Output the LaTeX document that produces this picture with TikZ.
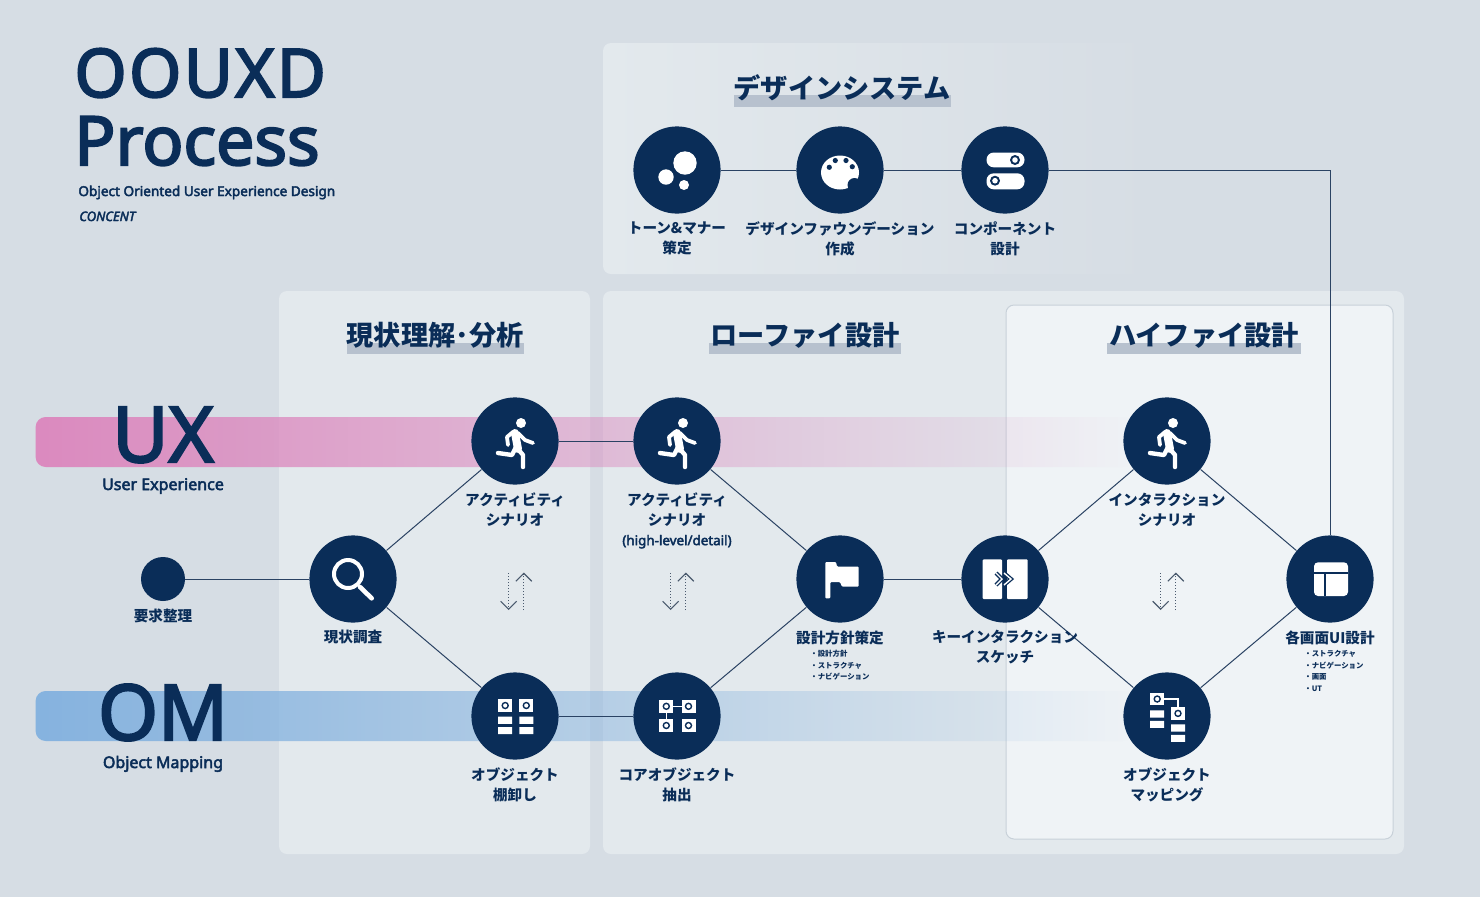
\documentclass[tikz,border=0pt]{standalone}
\usepackage{fontspec}
\usetikzlibrary{arrows.meta,positioning,fadings}
\setmainfont{Noto Sans CJK JP}
\newfontfamily\latinf{Noto Sans}[FakeBold=3]
\newfontfamily\titlef{Noto Sans}[FakeBold=3,LetterSpace=3.6]
\definecolor{ink}{HTML}{0A2D58}
\definecolor{wire}{HTML}{2A4263}
\definecolor{swapgrey}{HTML}{4A5A6E}
\definecolor{paper}{HTML}{D6DDE4}
\definecolor{panelgrey}{HTML}{E3E9ED}
\definecolor{panellight}{HTML}{EFF3F6}
\definecolor{rim}{HTML}{C8D1D9}
\definecolor{headbar}{HTML}{B7C1CE}
\definecolor{uxpink}{HTML}{DC8ABF}
\definecolor{omblue}{HTML}{86B3DF}
\tikzfading[name=bandfade,left color=transparent!0,right color=transparent!100]
\tikzset{stage/.style={circle,fill=ink,minimum size=43.6pt,inner sep=0pt,on grid},startdot/.style={circle,fill=ink,minimum size=22pt,inner sep=0pt},link/.style={draw=wire,line width=.5pt},stagecap/.style={font=\bfseries\fontsize{7.3}{10}\selectfont,text=ink,align=center,inner sep=0pt},stagenote/.style={font=\bfseries\fontsize{3.7}{5.75}\selectfont,text=ink,align=left,inner sep=0pt},sectionhead/.style={font=\bfseries\fontsize{13.6}{16}\selectfont,text=ink,inner sep=0pt},bigword/.style={font=\latinf\fontsize{38.5}{40}\selectfont,text=ink,inner sep=0pt,anchor=base},subword/.style={font=\latinf\fontsize{8}{10}\selectfont,text=ink,inner sep=0pt,anchor=base},whiteline/.style={draw=white,line cap=round,line join=round},swaparrow/.style={draw=swapgrey,line width=.55pt,dash pattern=on .6pt off .9pt,-{Straight Barb[length=4pt,width=8pt,line width=.55pt]}},
lens/.pic={\draw[white,line width=2pt] (-5,-5) circle[radius=14];\draw[whiteline,line width=2.3pt] (7,8)--(18.7,19.3);},
runner/.pic={\fill[white] (6,-18) circle[radius=5];\draw[whiteline,line width=4pt] (0,-8)--(3,8);\draw[whiteline,line width=1.9pt] (3,-8)--(10,-1)--(18,2);\draw[whiteline,line width=1.9pt] (-2,-9)--(-8,-4)--(-7,4);\draw[whiteline,line width=2.2pt] (1,6)--(-3,14)--(-17,12);\draw[whiteline,line width=2.2pt] (3,8)--(8,14)--(8,26);},
bubbles/.pic={\fill[white] (8,-7) circle[radius=11.7] (-11,7) circle[radius=7.7] (7,15) circle[radius=5];},
palette/.pic={\fill[white] (0,2.5) ellipse[x radius=19,y radius=17];\fill[ink] (14.5,15) circle[radius=7] (-4.7,-9.5) circle[radius=2.6] (6,-9.5) circle[radius=2.6] (-10.7,-2.7) circle[radius=2.6] (12.3,-3.3) circle[radius=2.6];},
toggles/.pic={\fill[white,rounded corners=3.6pt] (-18.5,-17.5) rectangle (19.5,-2.7) (-18.5,3.3) rectangle (19.5,19.3);\fill[ink] (10,-10) circle[radius=5] (-10,10.7) circle[radius=5];\fill[white] (10,-10) circle[radius=2.8] (-10,10.7) circle[radius=2.8];},
flagmark/.pic={\fill[white,rounded corners=.5pt] (-14.7,-17)--(-4,-17)--(-3,-12.5)--(18.7,-12.5)--(18.7,7.7)--(2,7.7)--(0,3)--(-9.7,3)--(-9.7,19.3)--(-14.7,19.3)--cycle;},
splitview/.pic={\fill[white,rounded corners=.5pt] (-22.3,-19.7) rectangle (-3,20) (2,-19.7) rectangle (22.7,20);\draw[ink,line width=2pt,line join=miter] (-9,-6)--(-3,0)--(-9,6) (-1,-6)--(6,0)--(-1,6);\draw[white,line width=.7pt] (-9,-6)--(-3,0)--(-9,6) (-1,-6)--(6,0)--(-1,6);},
layoutmark/.pic={\fill[white,rounded corners=2pt] (-16,-16.7) rectangle (18,17);\draw[ink,line width=.9pt] (-16,-5.7)--(18,-5.7) (-5.3,-5.7)--(-5.3,17);},
objsq/.pic={\fill[white] (-7,-6.4) rectangle (7,6.4);\draw[ink,line width=.7pt] (0,0) circle[radius=3];},
objbars/.pic={\fill[white] (-7,0) rectangle (7,7.2) (-7,10.5) rectangle (7,17.5);},
shelf/.pic={\pic at (-9.8,-10.5) {objsq};\pic at (11.3,-10.5) {objsq};\pic at (-9.8,.7) {objbars};\pic at (11.3,.7) {objbars};},
coregrid/.pic={\draw[white,line width=.8pt] (-10.7,-9.7)--(11.5,-9.7) (-10.7,-9.7)--(-10.7,9.5);\pic at (-10.7,-9.7) {objsq};\pic at (11.5,-9.7) {objsq};\pic at (-10.7,9.5) {objsq};\pic at (11.5,9.5) {objsq};},
mapmark/.pic={\draw[white,line width=.8pt] (-9.8,-17)--(11,-17)--(11,-3);\pic at (-9.8,-17) {objsq};\pic at (11,-2.6) {objsq};\pic at (-9.8,-5.7) {objbars};\pic at (11,8.3) {objbars};},
swapmark/.pic={\coordinate (-dtop) at (-6.3,-18);\coordinate (-dend) at (-6.3,19);\coordinate (-ubot) at (8.8,19);\coordinate (-utop) at (8.8,-18.5);\draw[swaparrow] (-dtop)--(-dend);\draw[swaparrow] (-ubot)--(-utop);}}
\begin{document}
\begin{tikzpicture}[x=.5pt,y=-.5pt]
\useasboundingbox (0,0) rectangle (1480,896);
\fill[paper] (-6,-6) rectangle (1486,902);
% panels
\shade[left color=panelgrey,right color=paper,rounded corners=4pt] (603,43) rectangle (1155,274);
\fill[panelgrey,rounded corners=4pt] (279,291) rectangle (590,854);
\fill[panelgrey,rounded corners=4pt] (603,291) rectangle (1404,854);
\filldraw[fill=panellight,draw=rim,line width=.5pt,rounded corners=4pt] (1006,305) rectangle (1393,839);
% bands
\fill[uxpink,path fading=bandfade,rounded corners=5pt] (36,417) rectangle (1135,467);
\fill[omblue,path fading=bandfade,rounded corners=5pt] (36,691) rectangle (1135,741);
% title
\node[font=\titlef\fontsize{33.5}{36}\selectfont,text=ink,inner sep=0pt,anchor=base west] (title) at (74,97) {OOUXD};
\node[font=\latinf\fontsize{34}{36}\selectfont,text=ink,inner sep=0pt,anchor=base west] (titleb) at (74,165) {Process};
\node[font=\latinf\fontsize{6.8}{9}\selectfont,text=ink,inner sep=0pt,anchor=base west] (subtitle) at (78,196) {Object Oriented User Experience Design};
\node[font=\latinf\itshape\fontsize{6.5}{8}\selectfont,text=ink,inner sep=0pt,anchor=base west] (maker) at (79,221) {CONCENT};
\node[bigword] (ux) at (163,462) {UX};
\node[subword] (uxsub) at (163,490) {User Experience};
\node[bigword] (om) at (163,740) {OM};
\node[subword] (omsub) at (163,768) {Object Mapping};
% section heads
\fill[headbar] (734,95) rectangle (951,107);
\fill[headbar] (347,343) rectangle (524,354);
\fill[headbar] (709,343) rectangle (901,354);
\fill[headbar] (1107,343) rectangle (1301,354);
\node[sectionhead] (headsystem) at (842,88) {デザインシステム};
\node[sectionhead] (headnow) at (435,335) {現状理解･分析};
\node[sectionhead] (headlow) at (805,335) {ローファイ設計};
\node[sectionhead] (headhigh) at (1204,335) {ハイファイ設計};
% stages
\node[stage] (tone) at (677,170) {};
\node[stage,right=81.5pt of tone] (found) {};
\node[stage,right=82.5pt of found] (comp) {};
\node[startdot] (req) at (163,579) {};
\node[stage,right=95pt of req] (survey) {};
\node[stage,above right=69pt and 81pt of survey] (acta) {};
\node[stage,below right=68.5pt and 81pt of survey] (obja) {};
\node[stage,right=81pt of acta] (actb) {};
\node[stage,right=81pt of obja] (core) {};
\node[stage,below right=69pt and 81.5pt of actb] (flag) {};
\node[stage,right=82.5pt of flag] (keyi) {};
\node[stage,above right=69pt and 81pt of keyi] (inter) {};
\node[stage,below right=68.5pt and 81pt of keyi] (mapping) {};
\node[stage,below right=69pt and 81.5pt of inter] (screen) {};
% connectors
\draw[link] (tone)--(found);\draw[link] (found)--(comp);\draw[link] (comp)-|(screen);
\draw[link] (req)--(survey);\draw[link] (survey)--(acta);\draw[link] (survey)--(obja);
\draw[link] (acta)--(actb);\draw[link] (obja)--(core);\draw[link] (actb)--(flag);\draw[link] (core)--(flag);
\draw[link] (flag)--(keyi);\draw[link] (keyi)--(inter);\draw[link] (keyi)--(mapping);
\draw[link] (inter)--(screen);\draw[link] (mapping)--(screen);
% icons
\pic at (tone) {bubbles};\pic at (found) {palette};\pic at (comp) {toggles};
\pic at (survey) {lens};\pic at (acta) {runner};\pic at (actb) {runner};\pic at (inter) {runner};
\pic at (obja) {shelf};\pic at (core) {coregrid};\pic at (mapping) {mapmark};
\pic at (flag) {flagmark};\pic at (keyi) {splitview};\pic at (screen) {layoutmark};
\pic (swapa) at (515,591) {swapmark};\pic (swapb) at (677,591) {swapmark};\pic (swapc) at (1167,591) {swapmark};
% captions
\node[stagecap,below=3.5pt of tone] (tonecap) {トーン\&マナー\\策定};
\node[stagecap,below=3.5pt of found] (foundcap) {デザインファウンデーション\\作成};
\node[stagecap,below=3.5pt of comp] (compcap) {コンポーネント\\設計};
\node[stagecap,below=3.5pt of req] (reqcap) {要求整理};
\node[stagecap,below=3.5pt of survey] (surveycap) {現状調査};
\node[stagecap,below=3.5pt of acta] (actacap) {アクティビティ\\シナリオ};
\node[stagecap,below=3.5pt of actb] (actbcap) {アクティビティ\\シナリオ\\{\latinf\fontsize{6.7}{10}\selectfont (high-level/detail)}};
\node[stagecap,below=3.5pt of obja] (objacap) {オブジェクト\\棚卸し};
\node[stagecap,below=3.5pt of core] (corecap) {コアオブジェクト\\抽出};
\node[stagecap,below=3.5pt of flag] (flagcap) {設計方針策定};
\node[stagecap,below=3.5pt of keyi] (keycap) {キーインタラクション\\スケッチ};
\node[stagecap,below=4pt of inter] (intercap) {インタラクション\\シナリオ};
\node[stagecap,below=3.5pt of mapping] (mapcap) {オブジェクト\\マッピング};
\node[stagecap,below=3.5pt of screen] (screencap) {各画面UI設計};
\node[stagenote,anchor=north west] (flagnote) at (810,650) {・設計方針\\・ストラクチャ\\・ナビゲーション};
\node[stagenote,anchor=north west] (screennote) at (1304,650) {・ストラクチャ\\・ナビゲーション\\・画面\\・UT};
\end{tikzpicture}
\end{document}
